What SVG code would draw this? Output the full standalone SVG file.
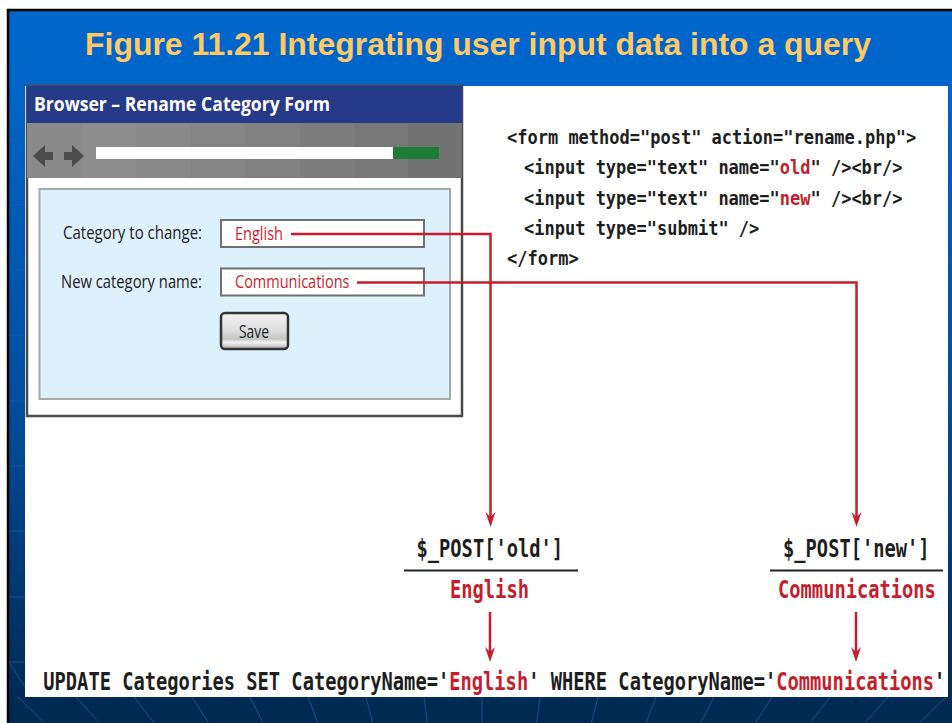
<svg xmlns="http://www.w3.org/2000/svg" width="952" height="723" viewBox="0 0 952 723">
<defs>
  <linearGradient id="bg" x1="0" y1="11" x2="0" y2="723" gradientUnits="userSpaceOnUse">
    <stop offset="0" stop-color="#0066CC"/>
    <stop offset="0.11" stop-color="#0064C8"/>
    <stop offset="0.546" stop-color="#004E9C"/>
    <stop offset="0.827" stop-color="#00366C"/>
    <stop offset="1" stop-color="#00284F"/>
  </linearGradient>
  <linearGradient id="btn" x1="0" y1="0" x2="0" y2="1">
    <stop offset="0" stop-color="#F4F4F4"/>
    <stop offset="0.5" stop-color="#DCDCDC"/>
    <stop offset="0.72" stop-color="#C6C6C6"/>
    <stop offset="0.82" stop-color="#F2F2F2"/>
    <stop offset="1" stop-color="#A8A8A8"/>
  </linearGradient>
  <marker id="arr" viewBox="-8 -6 17 12" markerWidth="17" markerHeight="12" refX="0" refY="0" orient="auto" markerUnits="userSpaceOnUse">
    <path d="M8,0 L-7,-5 L-2,0 L-7,5 Z" fill="#C41E2D"/>
  </marker>
  <style>
    .title{font-family:"Liberation Sans",Arial,sans-serif;font-weight:bold;font-size:31px;fill:#FFC966}
    .ui{font-family:"Open Sans","Noto Sans",sans-serif}
    .lbl{font-size:18px;fill:#222}
    .inp{font-size:18px;fill:#CC1F2E}
    .code{font-family:"DejaVu Sans Mono","Liberation Mono",monospace;font-weight:bold;font-size:19px;fill:#1E1E1E}
    .big{font-family:"DejaVu Sans Mono","Liberation Mono",monospace;font-weight:bold;font-size:24px;fill:#1E1E1E}
    .red{fill:#C41E2D}
    .conn{fill:none;stroke:#C41E2D;stroke-width:2.5}
    .grid{stroke:#2260A8;stroke-width:1;fill:none;opacity:0.7}
  </style>
</defs>

<g id="background">
  <rect x="0" y="0" width="952" height="723" fill="#FFFFFF"/>
  <rect x="8" y="10" width="944" height="713" fill="url(#bg)"/>
  <g class="grid">
    <path d="M9,140H25M9,205H25M9,270H25M9,335H25M9,401H25M9,466H25M9,531H25M9,597H25M9,662H25"/>
    <path d="M18,697L44.6,723M76,697L99.3,723M134,697L154,723M192,697L208.6,723M250,697L263.3,723M308,697L318,723M366,697L372.7,723M424,697L427.3,723M482,697L482,723M540,697L536.7,723M598,697L591.3,723M656,697L646,723M714,697L700.7,723M772,697L755.3,723M830,697L810,723M888,697L864.7,723M946,697L919.4,723"/>
    <path d="M9,662L25,687"/>
  </g>
  <path d="M8,723V10H952" fill="none" stroke="#000" stroke-width="2.5"/>
  <rect x="25" y="86" width="923" height="611" fill="#FFFFFF"/>
</g>

<g id="title">
  <text class="title" x="85" y="55" textLength="786" lengthAdjust="spacingAndGlyphs">Figure 11.21 Integrating user input data into a query</text>
</g>

<g id="browser">
  <rect x="27" y="86" width="435" height="330" fill="#FFFFFF" stroke="#4A4A4A" stroke-width="2.5"/>
  <rect x="27" y="86" width="435" height="37" fill="#263A8A"/>
  <text class="ui" x="34" y="110.5" font-size="20" font-weight="bold" fill="#FFFFFF" textLength="296" lengthAdjust="spacingAndGlyphs">Browser – Rename Category Form</text>
  <rect x="27" y="123" width="55" height="55" fill="#8A8A8A"/>
  <rect x="82" y="123" width="54" height="55" fill="#8D8D8D"/>
  <rect x="136" y="123" width="54" height="55" fill="#898989"/>
  <rect x="190" y="123" width="55" height="55" fill="#858585"/>
  <rect x="245" y="123" width="55" height="55" fill="#818181"/>
  <rect x="300" y="123" width="54" height="55" fill="#7D7D7D"/>
  <rect x="354" y="123" width="54" height="55" fill="#787878"/>
  <rect x="408" y="123" width="54" height="55" fill="#727272"/>
  <path d="M33,156 L45,145 L45,152 L53,152 L53,160 L45,160 L45,167 Z" fill="#4D4D4D"/>
  <path d="M84,156 L72,145 L72,152 L64,152 L64,160 L72,160 L72,167 Z" fill="#4D4D4D"/>
  <rect x="96" y="147" width="297" height="12" fill="#FFFFFF"/>
  <rect x="393" y="147" width="46" height="12" fill="#1E7D35"/>
  <rect x="39.5" y="189" width="410.5" height="210" fill="#DDF1FD" stroke="#A8A8A8" stroke-width="2"/>
  <text class="ui lbl" x="63" y="239" textLength="139" lengthAdjust="spacingAndGlyphs">Category to change:</text>
  <text class="ui lbl" x="61" y="288" textLength="141" lengthAdjust="spacingAndGlyphs">New category name:</text>
  <rect x="221" y="220" width="203" height="27" fill="#FFFFFF" stroke="#707070" stroke-width="2"/>
  <rect x="221" y="268.5" width="203" height="27" fill="#FFFFFF" stroke="#707070" stroke-width="2"/>
  <text class="ui inp" x="235" y="239.5" textLength="48" lengthAdjust="spacingAndGlyphs">English</text>
  <text class="ui inp" x="235" y="288" textLength="114.5" lengthAdjust="spacingAndGlyphs">Communications</text>
  <rect x="221" y="313" width="67" height="36" rx="4" fill="url(#btn)" stroke="#333333" stroke-width="2.5"/>
  <text class="ui" x="239" y="337.5" font-size="19" fill="#1E1E1E" textLength="30" lengthAdjust="spacingAndGlyphs">Save</text>
</g>

<g id="html-code" transform="scale(0.895 1)">
  <text class="code" x="566.5" y="144">&lt;form method="post" action="rename.php"&gt;</text>
  <text class="code" x="585.5" y="174.5">&lt;input type="text" name="<tspan class="red">old</tspan>" /&gt;&lt;br/&gt;</text>
  <text class="code" x="585.5" y="205">&lt;input type="text" name="<tspan class="red">new</tspan>" /&gt;&lt;br/&gt;</text>
  <text class="code" x="585.5" y="235">&lt;input type="submit" /&gt;</text>
  <text class="code" x="566.5" y="265.5">&lt;/form&gt;</text>
</g>

<g id="post-old">
  <line x1="404" y1="570.5" x2="578" y2="570.5" stroke="#222" stroke-width="2"/>
  <g transform="scale(0.781 1)">
    <text class="big" x="533.3" y="557">$_POST['old']</text>
    <text class="big red" x="576.2" y="598">English</text>
  </g>
</g>

<g id="post-new">
  <line x1="770" y1="570.5" x2="943" y2="570.5" stroke="#222" stroke-width="2"/>
  <g transform="scale(0.781 1)">
    <text class="big" x="1002.6" y="557">$_POST['new']</text>
    <text class="big red" x="996.2" y="598">Communications</text>
  </g>
</g>

<g id="query" transform="scale(0.781 1)">
  <text class="big" x="55.44" y="690.5">UPDATE Categories SET CategoryName='<tspan class="red">English</tspan>' WHERE CategoryName='<tspan class="red">Communications</tspan>'</text>
</g>

<g id="connectors">
  <path class="conn" d="M291,234 H490.5 V519" marker-end="url(#arr)"/>
  <path class="conn" d="M357,282.5 H856.5 V519" marker-end="url(#arr)"/>
  <path class="conn" d="M490,612 V654" marker-end="url(#arr)"/>
  <path class="conn" d="M856,612 V654" marker-end="url(#arr)"/>
</g>
</svg>
